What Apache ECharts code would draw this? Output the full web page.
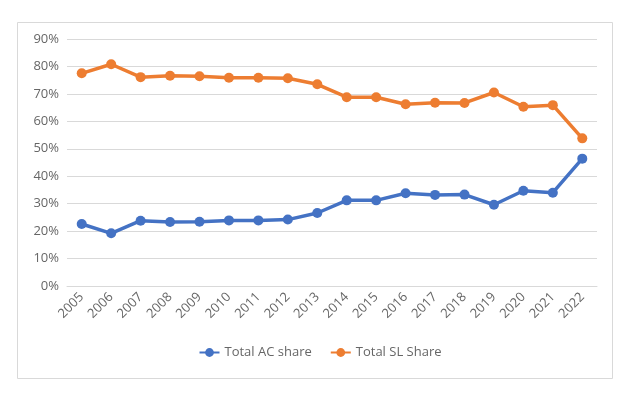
<!DOCTYPE html>
<html>
<head>
<meta charset="utf-8">
<script src="https://cdn.jsdelivr.net/npm/echarts@6/dist/echarts.min.js"></script>
<style>
html,body{margin:0;padding:0;background:#fff;}
#c{width:640px;height:395px;}
</style>
</head>
<body>
<div id="c"></div>
<script>
const years = ['2005','2006','2007','2008','2009','2010','2011','2012','2013','2014','2015','2016','2017','2018','2019','2020','2021','2022'];
const acShare = [22.6,19.2,23.8,23.3,23.4,23.9,23.9,24.2,26.6,31.2,31.2,33.8,33.2,33.3,29.6,34.7,34.0,46.4];
const slShare = [77.5,80.8,76.1,76.6,76.4,75.9,75.9,75.7,73.5,68.8,68.8,66.2,66.8,66.7,70.5,65.3,65.9,53.8];
const seriesNames = ['Total AC share','Total SL Share'];

const chart = echarts.init(document.getElementById('c'), null, {renderer:'canvas'});
const font = 'Open Sans';
chart.setOption({
  animation:false,
  backgroundColor:'#fff',
  graphic:[{
    type:'rect', z:-1, silent:true,
    shape:{x:17.5,y:22.5,width:595,height:356},
    style:{fill:'#fff',stroke:'#d9d9d9',lineWidth:1}
  }],
  grid:{left:67,right:43,top:39,bottom:109,containLabel:false},
  legend:{
    data:seriesNames,
    bottom:31,
    left:'center',
    itemWidth:20,
    itemHeight:11,
    itemGap:18,
    textStyle:{color:'#666666',fontFamily:font,fontSize:13}
  },
  xAxis:{
    type:'category',
    data:years,
    boundaryGap:true,
    axisLine:{show:true,lineStyle:{color:'#d9d9d9',width:1}},
    axisTick:{show:false},
    axisLabel:{rotate:45,margin:9,color:'#666666',fontFamily:font,fontSize:13,interval:0}
  },
  yAxis:{
    type:'value',
    min:0,max:90,interval:10,
    axisLine:{show:false},
    axisTick:{show:false},
    splitLine:{lineStyle:{color:'#d9d9d9',width:1}},
    axisLabel:{formatter:'{value}%',margin:8,color:'#666666',fontFamily:font,fontSize:13}
  },
  series:[
    {name:seriesNames[0],type:'line',data:acShare,color:'#4472C4',
     lineStyle:{width:3.5},symbol:'circle',symbolSize:10,showSymbol:true},
    {name:seriesNames[1],type:'line',data:slShare,color:'#ED7D31',
     lineStyle:{width:3.5},symbol:'circle',symbolSize:10,showSymbol:true}
  ]
});
</script>
</body>
</html>
